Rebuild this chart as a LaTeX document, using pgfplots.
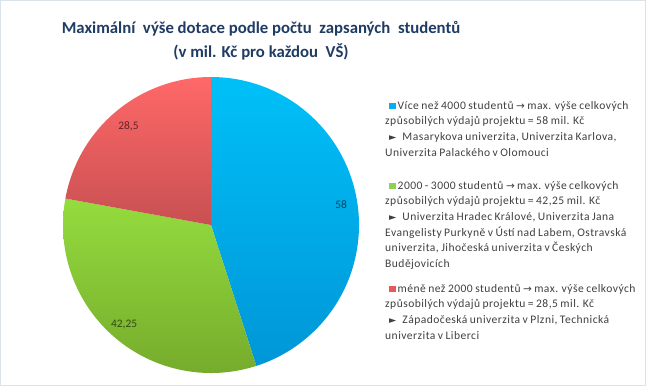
\documentclass[border=0pt]{standalone}
\usepackage{pgfplots}
\pgfplotsset{compat=1.18}
\usepackage{fontspec}
\setmainfont{Carlito}
\newfontfamily\legfont{Carlito}[LetterSpace=4,WordSpace=0.8]
\newfontfamily\dejavu{DejaVu Sans}
\definecolor{titleblue}{RGB}{31,60,100}
\definecolor{legtext}{RGB}{64,64,64}
\definecolor{blueTop}{RGB}{0,192,248}
\definecolor{blueBot}{RGB}{0,150,215}
\definecolor{greenTop}{RGB}{148,220,62}
\definecolor{greenBot}{RGB}{118,172,44}
\definecolor{redTop}{RGB}{255,104,104}
\definecolor{redBot}{RGB}{200,80,82}
\definecolor{blueLeg}{RGB}{0,176,240}
\definecolor{greenLeg}{RGB}{146,208,80}
\definecolor{redLeg}{RGB}{230,90,90}
\definecolor{frame}{RGB}{218,226,234}
% slice values (mil. Kc)
\def\va{58}
\def\vb{42.25}
\def\vc{28.5}
\newcommand{\sq}[1]{\hspace*{4bp}\textcolor{#1}{\rule{6.5bp}{6.5bp}}\hspace{2bp}}
\newcommand{\arr}{{\dejavu\fontsize{10.5}{10}\selectfont →}}
\newcommand{\tri}{{\dejavu\fontsize{9.5}{10}\selectfont ►}\hspace{6bp}}
\begin{document}
\begin{tikzpicture}[x=1bp,y=-1bp]
\useasboundingbox (0,0) rectangle (646,386);
\fill[white] (0,0) rectangle (646,386);
\draw[frame, line width=1bp] (0.5,0.5) rectangle (645.5,385.5);
\pgfmathsetmacro\tot{\va+\vb+\vc}
\pgfmathsetmacro\aA{90}
\pgfmathsetmacro\aB{90-360*(\va/\tot)}
\pgfmathsetmacro\aC{\aB-360*(\vb/\tot)}
\pgfmathsetmacro\aD{\aC-360*(\vc/\tot)}
\pgfmathsetmacro\mA{(\aA+\aB)/2}
\pgfmathsetmacro\mB{(\aB+\aC)/2}
\pgfmathsetmacro\mC{(\aC+\aD)/2}
\begin{axis}[at={(211bp,-225bp)}, anchor=center, width=296bp, height=296bp,
  scale only axis, hide axis, xmin=-1, xmax=1, ymin=-1, ymax=1, clip=false]
\addplot[draw=none, top color=blueTop, bottom color=blueBot, domain=\aB:\aA, samples=120, variable=\t]
  ({cos(\t)},{sin(\t)}) -- (0,0) -- cycle;
\addplot[draw=none, top color=greenTop, bottom color=greenBot, domain=\aC:\aB, samples=100, variable=\t]
  ({cos(\t)},{sin(\t)}) -- (0,0) -- cycle;
\addplot[draw=none, top color=redTop, bottom color=redBot, domain=\aD:\aC, samples=80, variable=\t]
  ({cos(\t)},{sin(\t)}) -- (0,0) -- cycle;
\node[font=\fontsize{11.5}{13}\selectfont, text=black, text opacity=0.6] at (axis cs:{0.89*cos(\mA)},{0.89*sin(\mA)}) {58};
\node[font=\fontsize{11.5}{13}\selectfont, text=black, text opacity=0.6] at (axis cs:{0.89*cos(\mB)},{0.89*sin(\mB)}) {42,25};
\node[font=\fontsize{11.5}{13}\selectfont, text=black, text opacity=0.6] at (axis cs:{0.87*cos(\mC)},{0.87*sin(\mC)}) {28,5};
\end{axis}
\node[font=\bfseries\fontsize{16.8}{23.5}\selectfont, text=titleblue, align=center, anchor=north] at (261,18)
  {Maximální\ \ výše dotace podle počtu\ \ zapsaných\ \ studentů\\(v mil. Kč pro každou\ \ VŠ)};
\begin{scope}[every node/.style={font=\legfont\fontsize{11.6}{15.6}\selectfont, text=legtext, align=left, anchor=north west, inner sep=0pt}]
\node at (385,101) {\sq{blueLeg}Více než 4000 studentů \arr{} max. výše celkových\\způsobilých výdajů projektu = 58 mil. Kč\\\hspace*{4bp}\tri Masarykova univerzita, Univerzita Karlova,\\Univerzita Palackého v Olomouci};
\node at (385,181) {\sq{greenLeg}2000 - 3000 studentů \arr{} max. výše celkových\\způsobilých výdajů projektu = 42,25 mil. Kč\\\hspace*{4bp}\tri Univerzita Hradec Králové, Univerzita Jana\\Evangelisty Purkyně v Ústí nad Labem, Ostravská\\univerzita, Jihočeská univerzita v Českých\\Budějovicích};
\node at (385,284) {\sq{redLeg}méně než 2000 studentů \arr{} max. výše celkových\\způsobilých výdajů projektu = 28,5 mil. Kč\\\hspace*{4bp}\tri Západočeská univerzita v Plzni, Technická\\univerzita v Liberci};
\end{scope}
\end{tikzpicture}
\end{document}
